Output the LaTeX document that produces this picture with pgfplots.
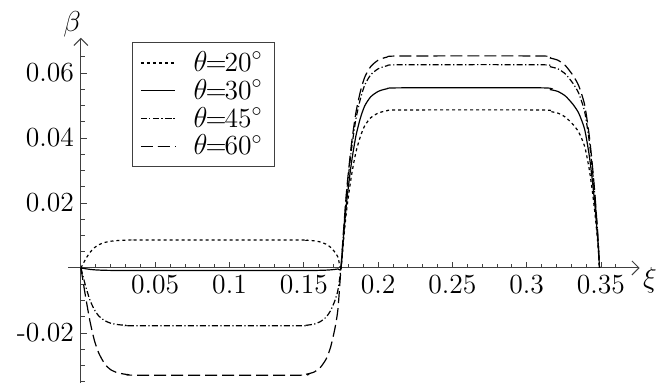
\documentclass[border=0pt]{standalone}
\usepackage{pgfplots}
\pgfplotsset{compat=1.18}
\usetikzlibrary{arrows.meta}
\begin{document}
\begin{tikzpicture}
\begin{axis}[
  scale only axis,
  width=285.8pt, height=172.6pt,
  xmin=-0.0087, xmax=0.376,
  ymin=-0.0354, ymax=0.0708,
  clip=false,
  axis lines=middle,
  axis line style={black!75, line width=0.5pt, -{Straight Barb[length=3.5pt,width=7pt]}},
  scaled ticks=false,
  xtick={0.05,0.1,0.15,0.2,0.25,0.3,0.35},
  xticklabels={0.05,0.1,0.15,0.2,0.25,0.3,0.35},
  ytick={-0.02,0.02,0.04,0.06},
  yticklabels={-0.02,0.02,0.04,0.06},
  minor xtick={0.01,0.02,0.03,0.04,0.06,0.07,0.08,0.09,0.11,0.12,0.13,0.14,0.16,0.17,0.18,0.19,0.21,0.22,0.23,0.24,0.26,0.27,0.28,0.29,0.31,0.32,0.33,0.34,0.36},
  minor ytick={-0.035,-0.03,-0.025,-0.015,-0.01,-0.005,0.005,0.01,0.015,0.025,0.03,0.035,0.045,0.05,0.055,0.065},
  tick align=inside,
  major tick length=3pt, minor tick length=1.8pt,
  tick style={black!75, line width=0.4pt},
  every tick label/.append style={font=\fontsize{13.8}{16}\selectfont},
  legend style={at={(axis cs:0.0343,0.0695)}, anchor=north west, draw=black!75,
    font=\fontsize{13.8}{16}\selectfont, row sep=-1.6pt, inner xsep=4pt, inner ysep=2.5pt,
    /tikz/every odd column/.append style={column sep=7pt}},
  legend cell align=left,
  every axis plot/.append style={line width=0.6pt, black},
]
% theta = 20
\addplot[smooth, tension=0.4, dash pattern=on 1.5pt off 1.5pt] coordinates {
  (0,0) (0.003,0.00258) (0.006,0.00473) (0.009,0.00619) (0.012,0.00714) (0.016,0.00783)
  (0.02,0.00821) (0.025,0.00843) (0.032,0.00856) (0.04,0.0086) (0.145,0.0086) (0.152,0.00851)
  (0.157,0.00834) (0.161,0.0080) (0.165,0.00731) (0.168,0.00636) (0.171,0.00482) (0.173,0.00327)
  (0.175,0) (0.177,0.00972) (0.179,0.01847) (0.182,0.02819) (0.185,0.03548) (0.188,0.04034)
  (0.191,0.04374) (0.195,0.04617) (0.2,0.04763) (0.206,0.04836) (0.215,0.0486) (0.31,0.0486)
  (0.316,0.04811) (0.321,0.04763) (0.326,0.04641) (0.331,0.04423) (0.335,0.0418) (0.339,0.03742)
  (0.342,0.03062) (0.344,0.0243) (0.346,0.01652) (0.348,0.0068) (0.349,0)
};
\addlegendentry{$\theta$\kern-1pt=\kern-1pt20$^\circ$}
% theta = 30
\addplot[smooth, tension=0.4] coordinates {
  (0,0) (0.003,-0.00024) (0.006,-0.00044) (0.009,-0.00058) (0.012,-0.00066) (0.016,-0.00073)
  (0.02,-0.00076) (0.025,-0.00078) (0.032,-0.0008) (0.04,-0.0008) (0.145,-0.0008) (0.152,-0.00079)
  (0.157,-0.00078) (0.161,-0.00074) (0.165,-0.00068) (0.168,-0.00059) (0.171,-0.00045) (0.173,-0.0003)
  (0.175,0) (0.177,0.01108) (0.179,0.02105) (0.182,0.03213) (0.185,0.04044) (0.188,0.04598)
  (0.191,0.04986) (0.195,0.05263) (0.2,0.05429) (0.206,0.05512) (0.215,0.0554) (0.31,0.0554)
  (0.316,0.05485) (0.321,0.05429) (0.326,0.05291) (0.331,0.05041) (0.335,0.04764) (0.339,0.04266)
  (0.342,0.0349) (0.344,0.0277) (0.346,0.01884) (0.348,0.00776) (0.349,0)
};
\addlegendentry{$\theta$\kern-1pt=\kern-1pt30$^\circ$}
% theta = 45
\addplot[smooth, tension=0.4, dash pattern=on 3pt off 1.2pt on 0.6pt off 1.2pt] coordinates {
  (0,0) (0.003,-0.00534) (0.006,-0.00979) (0.009,-0.01282) (0.012,-0.01477) (0.016,-0.0162)
  (0.02,-0.017) (0.025,-0.01744) (0.032,-0.01771) (0.04,-0.0178) (0.145,-0.0178) (0.152,-0.01762)
  (0.157,-0.01727) (0.161,-0.01655) (0.165,-0.01513) (0.168,-0.01317) (0.171,-0.00997) (0.173,-0.00676)
  (0.175,0) (0.177,0.0125) (0.179,0.02375) (0.182,0.03625) (0.185,0.04563) (0.188,0.05188)
  (0.191,0.05625) (0.195,0.05938) (0.2,0.06125) (0.206,0.06219) (0.215,0.0625) (0.31,0.0625)
  (0.316,0.06188) (0.321,0.06125) (0.326,0.05969) (0.331,0.05688) (0.335,0.05375) (0.339,0.04813)
  (0.342,0.03938) (0.344,0.03125) (0.346,0.02125) (0.348,0.00875) (0.349,0)
};
\addlegendentry{$\theta$\kern-1pt=\kern-1pt45$^\circ$}
% theta = 60
\addplot[smooth, tension=0.4, dash pattern=on 6pt off 2.5pt] coordinates {
  (0,0) (0.003,-0.0085) (0.006,-0.0162) (0.009,-0.0222) (0.012,-0.0262) (0.016,-0.0295)
  (0.02,-0.0313) (0.025,-0.0323) (0.032,-0.03284) (0.04,-0.033) (0.145,-0.033) (0.152,-0.03267)
  (0.157,-0.03201) (0.161,-0.03069) (0.165,-0.02805) (0.168,-0.02442) (0.171,-0.01848) (0.173,-0.01254)
  (0.175,0) (0.177,0.01304) (0.179,0.02478) (0.182,0.03782) (0.185,0.0476) (0.188,0.05412)
  (0.191,0.05868) (0.195,0.06194) (0.2,0.0639) (0.206,0.06487) (0.215,0.0652) (0.31,0.0652)
  (0.316,0.06455) (0.321,0.0639) (0.326,0.06227) (0.331,0.05933) (0.335,0.05607) (0.339,0.0502)
  (0.342,0.04108) (0.344,0.0326) (0.346,0.02217) (0.348,0.00913) (0.349,0)
};
\addlegendentry{$\theta$\kern-1pt=\kern-1pt60$^\circ$}
\node[font=\fontsize{13.8}{16}\selectfont] at (axis cs:-0.006,0.0748) {$\beta$};
\node[font=\fontsize{13.8}{16}\selectfont] at (axis cs:0.383,-0.0037) {$\xi$};
\end{axis}
\pgfresetboundingbox
\path[use as bounding box] (-34pt,-1pt) rectangle (294.5pt,191.5pt);
\end{tikzpicture}
\end{document}
